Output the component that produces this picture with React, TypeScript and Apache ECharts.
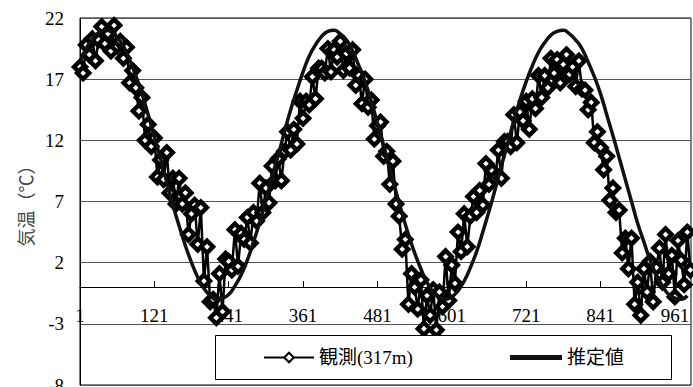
import React, { useEffect, useRef } from "react";
import * as echarts from "echarts";

// Axis settings
const Y_MIN = -8;
const Y_MAX = 22;
const Y_STEP = 5;
const X_STEP = 120;
const X_SPAN = 986;

const Y_TITLE = "気温（℃）";
const SERIES_NAMES = ["観測(317m)", "推定値"];

// Observed daily temperature (sampled every 5 days, starting day 1)
const OBS_FIRST_DAY = 1;
const OBS_STEP = 5;
const observed = [
  18.0, 17.5, 19.8, 19.0, 20.3, 18.5, 20.2, 21.3, 19.9, 20.7,
  19.3, 21.4, 19.7, 20.1, 18.7, 19.6, 16.7, 17.7, 16.3, 14.4,
  15.5, 12.0, 13.3, 11.5, 12.2, 9.0, 10.4, 8.8, 11.0, 7.7,
  8.9, 6.8, 8.9, 6.8, 7.7, 4.3, 6.0, 6.7, 3.5, 6.5,
  0.5, 3.3, -1.2, -1.0, -2.5, 1.1, -2.0, 2.3, 2.1, 1.4,
  4.7, 1.7, 4.4, 3.9, 5.7, 3.6, 6.1, 5.4, 8.5, 6.1,
  8.1, 6.9, 9.9, 8.7, 10.5, 8.7, 11.1, 12.7, 11.2, 12.9,
  11.7, 15.2, 13.8, 15.2, 14.9, 17.2, 15.4, 17.9, 17.9, 17.5,
  19.5, 17.6, 19.4, 18.8, 20.1, 17.7, 19.1, 17.9, 19.4, 16.5,
  17.3, 15.0, 17.0, 14.7, 15.3, 12.1, 13.2, 13.5, 10.7, 11.1,
  8.4, 10.3, 6.8, 5.8, 3.1, 3.9, -1.4, 1.1, 0.0, -1.8,
  0.6, -3.4, -0.7, -2.3, -0.2, -3.5, -0.4, -1.6, 2.5, -1.1,
  1.8, 0.3, 4.5, 2.9, 6.0, 3.3, 5.8, 7.4, 6.1, 7.9,
  6.7, 10.1, 8.4, 9.5, 8.9, 11.2, 8.9, 11.9, 11.9, 11.5,
  14.1, 11.8, 14.3, 13.6, 15.2, 12.9, 15.4, 14.6, 17.3, 15.5,
  17.3, 16.3, 18.7, 17.5, 18.6, 16.7, 18.2, 19.0, 17.4, 18.0,
  16.4, 18.5, 16.2, 16.1, 14.5, 15.1, 11.8, 12.7, 11.4, 9.6,
  10.7, 7.1, 8.1, 6.1, 6.3, 2.8, 4.0, 1.5, 4.0, -1.4,
  0.4, -2.3, 1.5, -0.4, 2.1, -1.2, 1.6, 3.2, 0.4, 4.3,
  1.1, 2.6, -0.8, 3.8, 2.2, 0.2, 4.5, 1.4,
];

// Estimated curve (every 10 days, starting day 1)
const EST_FIRST_DAY = 1;
const EST_STEP = 10;
const estimated = [
  18.4, 19.5, 20.3, 20.8, 21.0, 20.9, 20.4, 19.7, 18.6, 17.3,
  15.8, 14.1, 12.3, 10.5, 8.6, 6.7, 5.0, 3.4, 2.0, 0.8,
  -0.1, -0.7, -1.0, -0.9, -0.6, 0.1, 1.0, 2.2, 3.7, 5.3,
  7.1, 9.0, 10.8, 12.7, 14.5, 16.1, 17.6, 18.9, 19.8, 20.5,
  20.9, 21.0, 20.7, 20.2, 19.3, 18.1, 16.8, 15.2, 13.4, 11.6,
  9.7, 7.8, 6.0, 4.3, 2.8, 1.5, 0.4, -0.4, -0.8, -1.0,
  -0.8, -0.3, 0.5, 1.6, 2.9, 4.5, 6.2, 8.0, 9.9, 11.7,
  13.6, 15.3, 16.8, 18.1, 19.2, 20.0, 20.6, 20.9, 21.0, 20.7,
  20.2, 19.5, 18.4, 17.2, 15.8, 14.1, 12.4, 10.6, 8.8, 7.0,
  5.2, 3.7, 2.2, 1.0, 0.1, -0.6, -0.9, -1.0, -0.7,
];

const GRID_TOP = 18;
const GRID_BOTTOM = 2;
const CHART_H = 387;

export default function App() {
  const ref = useRef<HTMLDivElement>(null);

  useEffect(() => {
    if (!ref.current) return;
    const chart = echarts.init(ref.current, null, { renderer: "svg" });
    const serif = "'Liberation Serif', 'Noto Sans CJK JP', serif";
    const obsData = observed.map((v, i) => [OBS_FIRST_DAY + i * OBS_STEP - 1, v]);
    const estData = estimated.map((v, i) => [EST_FIRST_DAY + i * EST_STEP - 1, v]);
    const legendText = { fontFamily: serif, fontSize: 19, color: "#000" };

    // distance (px) from the zero line down to the grid bottom; ECharts keeps
    // the labels of an on-zero axis at the grid edge, so pull them back up.
    const plotH = CHART_H - GRID_TOP - GRID_BOTTOM;
    const zeroToBottom = (plotH * (0 - Y_MIN)) / (Y_MAX - Y_MIN);

    chart.setOption({
      animation: false,
      backgroundColor: "#fff",
      grid: {
        left: 80,
        right: 2,
        top: GRID_TOP,
        bottom: GRID_BOTTOM,
        show: true,
        borderColor: "#000",
        borderWidth: 1,
        containLabel: false,
        outerBoundsMode: "none",
      },
      xAxis: {
        type: "value",
        min: 0,
        max: X_SPAN,
        interval: X_STEP,
        axisLine: { onZero: true, onZeroAxisIndex: 0, lineStyle: { color: "#000", width: 1 } },
        axisTick: { show: true, inside: true, length: 6, lineStyle: { color: "#000" } },
        axisLabel: {
          margin: 19 - zeroToBottom,
          fontFamily: serif,
          fontSize: 19,
          color: "#000",
          showMaxLabel: false,
          formatter: (v: number) => String(v + 1),
        },
        splitLine: { show: false },
      },
      yAxis: [
        {
          type: "value",
          min: Y_MIN,
          max: Y_MAX,
          position: "left",
          axisLine: { show: false },
          axisTick: { show: false },
          axisLabel: { show: false },
          splitLine: { show: false },
        },
        {
          type: "value",
          min: 0,
          max: Y_MAX - Y_MIN,
          interval: Y_STEP,
          position: "left",
          offset: 0,
          axisLine: { show: true, onZero: false, lineStyle: { color: "#000" } },
          axisTick: { show: false },
          axisLabel: {
            margin: 16,
            fontFamily: serif,
            fontSize: 19,
            color: "#000",
            formatter: (v: number) => String(v + Y_MIN),
          },
          splitLine: { show: true, lineStyle: { color: "#555", width: 1 } },
          name: Y_TITLE,
          nameLocation: "middle",
          nameGap: 45,
          nameTextStyle: { fontFamily: "'Noto Sans CJK JP', sans-serif", fontSize: 18, color: "#444" },
        },
      ],
      graphic: [
        {
          type: "rect",
          z: 100,
          shape: { x: 215.5, y: 335.5, width: 456, height: 44 },
          style: { fill: "#fff", stroke: "#000", lineWidth: 1 },
        },
      ],
      legend: [
        {
          data: [SERIES_NAMES[0]],
          left: 263,
          top: 348,
          padding: 0,
          itemWidth: 50,
          itemHeight: 12,
          selectedMode: false,
          textStyle: legendText,
          z: 200,
        },
        {
          data: [{ name: SERIES_NAMES[1], icon: "rect" }],
          left: 510,
          top: 348,
          padding: 0,
          itemWidth: 52,
          itemHeight: 5,
          selectedMode: false,
          textStyle: legendText,
          z: 200,
        },
      ],
      series: [
        {
          name: SERIES_NAMES[0],
          type: "line",
          yAxisIndex: 0,
          data: obsData,
          symbol: "diamond",
          symbolSize: 12,
          showSymbol: true,
          showAllSymbol: true,
          lineStyle: { color: "#000", width: 2.5 },
          itemStyle: { color: "#fff", borderColor: "#000", borderWidth: 4.5 },
          z: 2,
        },
        {
          name: SERIES_NAMES[1],
          type: "line",
          yAxisIndex: 0,
          data: estData,
          smooth: true,
          symbol: "none",
          showSymbol: false,
          lineStyle: { color: "#111", width: 3.5 },
          itemStyle: { color: "#111" },
          z: 3,
        },
      ],
    });
    return () => chart.dispose();
  }, []);

  return (
    <div
      ref={ref}
      style={{ position: "absolute", left: 0, top: 0, width: 693, height: 387 }}
    />
  );
}
